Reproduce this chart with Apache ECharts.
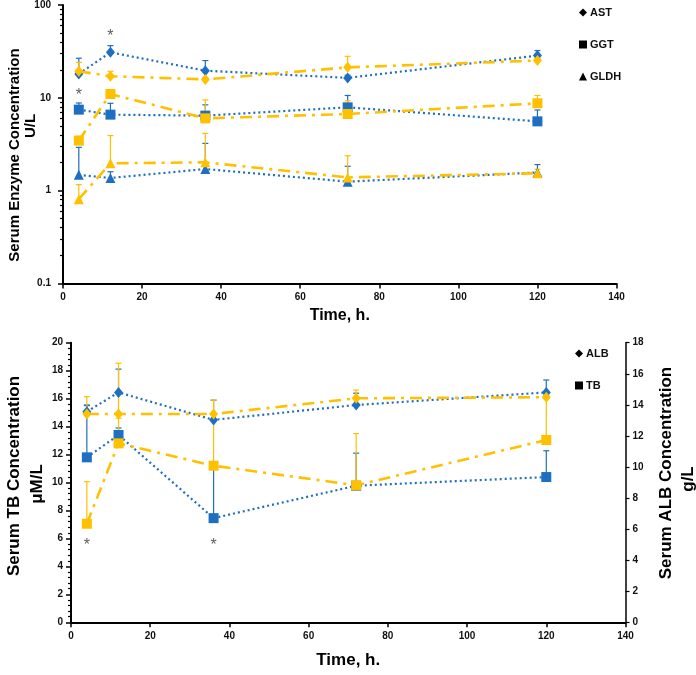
<!DOCTYPE html>
<html>
<head>
<meta charset="utf-8">
<script src="https://cdn.jsdelivr.net/npm/echarts@6/dist/echarts.min.js"></script>
<style>
html,body{margin:0;padding:0;background:#fff;}
#c{width:696px;height:675px;}
</style>
</head>
<body>
<div id="c"></div>
<script>
// ---- data ----
var time = [4, 12, 36, 72, 120];
var xTicks = [0, 20, 40, 60, 80, 100, 120, 140];

// top panel (log scale, U/L): mean and upper error-bar end
var astBlue      = [18.1, 30.9, 19.6, 16.4, 28.5];
var astBlueHi    = [26.7, 36.5, 25.2, 17.5, 32.3];
var astOrange    = [19.3, 17.1, 15.8, 21.3, 25.2];
var astOrangeHi  = [24.1, 19.3, 16.5, 28.0, 26.5];
var ggtBlue      = [7.46, 6.59, 6.43, 7.9, 5.58];
var ggtBlueHi    = [8.8, 8.73, 8.4, 10.6, 7.4];
var ggtOrange    = [3.46, 11.0, 6.01, 6.7, 8.73];
var ggtOrangeHi  = [3.85, 11.5, 9.5, 9.3, 10.6];
var gldhBlue     = [1.48, 1.37, 1.71, 1.25, 1.57];
var gldhBlueHi   = [2.93, 1.6, 3.23, 1.83, 1.91];
var gldhOrange   = [0.81, 1.97, 2.02, 1.39, 1.54];
var gldhOrangeHi = [1.16, 3.92, 4.14, 2.38, 1.7];
var topSig       = [[4, 11.7], [12, 50.4]];

// bottom panel: TB on left axis (μM/L), ALB on right axis (g/L)
var tbBlue       = [11.8, 13.4, 7.45, 9.77, 10.39];
var tbBlueHi     = [15.5, 13.9, 11.0, 12.1, 12.27];
var tbOrange     = [7.05, 12.8, 11.2, 9.8, 13.04];
var tbOrangeHi   = [10.06, 14.6, 14.9, 13.5, 16.1];
var albBlue      = [13.56, 14.8, 13.03, 13.99, 14.8];
var albBlueHi    = [13.99, 16.3, 14.3, 14.75, 15.6];
var albOrange    = [13.41, 13.41, 13.41, 14.42, 14.49];
var albOrangeHi  = [14.53, 16.68, 14.3, 14.95, 14.6];
var bottomSig    = [[4, 5.77], [36, 5.77]];

var logMinor = [0.2,0.3,0.4,0.5,0.6,0.7,0.8,0.9,2,3,4,5,6,7,8,9,20,30,40,50,60,70,80,90];
var logMajor = [0.1, 1, 10, 100];

// ---- styles ----
var BLUE = '#1E6FC0';
var ORANGE = '#FFC000';
var FONT = '"Liberation Sans", Arial, sans-serif';
var dotted = [2, 3];
var dashDot = [12, 6, 3, 6];

function pairs(xs, ys) { return xs.map(function (x, i) { return [x, ys[i]]; }); }
function triples(xs, ys, hs) { return xs.map(function (x, i) { return [x, ys[i], hs[i]]; }); }

function lineSeries(name, vals, color, symbol, size, dash, xi, yi, z) {
  return {
    type: 'line', name: name, xAxisIndex: xi, yAxisIndex: yi,
    data: pairs(time, vals), symbol: symbol, symbolSize: size,
    itemStyle: { color: color }, z: z,
    lineStyle: { color: color, width: dash === dotted ? 2.2 : 2.6, type: dash, cap: 'butt' },
    emphasis: { disabled: true }, animation: false
  };
}
function errSeries(vals, hi, color, xi, yi, z) {
  return {
    type: 'custom', xAxisIndex: xi, yAxisIndex: yi, z: z, animation: false,
    data: triples(time, vals, hi),
    encode: { x: 0, y: [1, 2] },
    renderItem: function (params, api) {
      var p0 = api.coord([api.value(0), api.value(1)]);
      var p1 = api.coord([api.value(0), api.value(2)]);
      var st = { stroke: color, lineWidth: 1.2 };
      return { type: 'group', children: [
        { type: 'line', shape: { x1: p0[0], y1: p0[1], x2: p1[0], y2: p1[1] }, style: st },
        { type: 'line', shape: { x1: p1[0] - 3, y1: p1[1], x2: p1[0] + 3, y2: p1[1] }, style: st }
      ] };
    }
  };
}
function sigSeries(pts, xi, yi) {
  return {
    type: 'scatter', xAxisIndex: xi, yAxisIndex: yi, data: pts, symbolSize: 1,
    itemStyle: { color: 'rgba(0,0,0,0)' }, animation: false, z: 20,
    label: { show: true, position: 'inside', formatter: '*', fontSize: 16, fontFamily: FONT,
             color: '#333', offset: [0, 4] }
  };
}

var axisLbl = { color: '#111', fontSize: 10, fontWeight: 'bold', fontFamily: FONT };
var axisLn = { show: true, lineStyle: { color: '#000', width: 2 } };

function xAxisDef(gi, gap) {
  return {
    gridIndex: gi, type: 'value', min: 0, max: 140, interval: 20,
    axisLine: axisLn, splitLine: { show: false },
    axisTick: { show: true, length: 5, lineStyle: { color: '#000', width: 1.5 } },
    axisLabel: Object.assign({ margin: 9 }, axisLbl),
    name: 'Time, h.', nameLocation: 'middle', nameGap: gap,
    nameTextStyle: { color: '#000', fontSize: gi === 0 ? 16 : 17, fontWeight: 'bold', fontFamily: FONT }
  };
}

var option = {
  backgroundColor: '#fff',
  animation: false,
  grid: [
    { left: 63, top: 5, width: 553.5, height: 278.5 },
    { left: 71, top: 342.7, width: 554.5, height: 279.6 }
  ],
  xAxis: [xAxisDef(0, 24), xAxisDef(1, 30)],
  yAxis: [
    { gridIndex: 0, type: 'log', logBase: 10, min: 0.1, max: 100, position: 'left',
      axisLine: axisLn, splitLine: { show: false },
      axisTick: { show: true, length: 5, lineStyle: { color: '#000', width: 1.5 } },
      axisLabel: Object.assign({ margin: 12, formatter: function (v) { return String(+v.toPrecision(3)); } }, axisLbl) },
    { gridIndex: 0, type: 'log', logBase: 10, min: 0.1, max: 100, position: 'left', offset: 0,
      axisLine: { show: false }, splitLine: { show: false },
      axisTick: { show: true, length: 3, customValues: logMinor, lineStyle: { color: '#000', width: 1.2 } },
      axisLabel: { show: false } },
    { gridIndex: 1, type: 'value', min: 0, max: 20, interval: 2, position: 'left',
      axisLine: axisLn, splitLine: { show: false },
      axisTick: { show: true, length: 5, lineStyle: { color: '#000', width: 1.5 } },
      minorTick: { show: true, splitNumber: 5, length: 3, lineStyle: { color: '#000', width: 1.2 } },
      minorSplitLine: { show: false },
      axisLabel: Object.assign({ margin: 8 }, axisLbl) },
    { gridIndex: 1, type: 'value', position: 'right', min: 0, max: 18, interval: 2,
      axisLine: { show: true, lineStyle: { color: '#000', width: 1.5 } }, splitLine: { show: false },
      axisTick: { show: true, length: 4, lineStyle: { color: '#000', width: 1.2 } },
      axisLabel: Object.assign({ margin: 7 }, axisLbl) }
  ],
  legend: [
    { left: 574, top: 2, orient: 'vertical', itemGap: 21, itemWidth: 8, itemHeight: 8,
      selectedMode: false,
      textStyle: { color: '#111', fontSize: 11, fontWeight: 'bold', fontFamily: FONT, padding: [0, 0, 0, -2] },
      data: [
        { name: 'AST', icon: 'diamond', itemStyle: { color: '#000' } },
        { name: 'GGT', icon: 'rect', itemStyle: { color: '#000' } },
        { name: 'GLDH', icon: 'triangle', itemStyle: { color: '#000' } }
      ] },
    { left: 570, top: 343, orient: 'vertical', itemGap: 21, itemWidth: 8, itemHeight: 8,
      selectedMode: false,
      textStyle: { color: '#111', fontSize: 11, fontWeight: 'bold', fontFamily: FONT, padding: [0, 0, 0, -2] },
      data: [
        { name: 'ALB', icon: 'diamond', itemStyle: { color: '#000' } },
        { name: 'TB', icon: 'rect', itemStyle: { color: '#000' } }
      ] }
  ],
  graphic: [
    { type: 'text', x: 15, y: 155, rotation: Math.PI / 2,
      style: { text: 'Serum Enzyme Concentration', font: 'bold 15px ' + FONT, fill: '#000', align: 'center', verticalAlign: 'middle' } },
    { type: 'text', x: 31, y: 126, rotation: Math.PI / 2,
      style: { text: 'U/L', font: 'bold 15px ' + FONT, fill: '#000', align: 'center', verticalAlign: 'middle' } },
    { type: 'text', x: 14, y: 476, rotation: Math.PI / 2,
      style: { text: 'Serum TB Concentration', font: 'bold 17px ' + FONT, fill: '#000', align: 'center', verticalAlign: 'middle' } },
    { type: 'text', x: 37, y: 484, rotation: Math.PI / 2,
      style: { text: 'μM/L', font: 'bold 17px ' + FONT, fill: '#000', align: 'center', verticalAlign: 'middle' } },
    { type: 'text', x: 666, y: 473, rotation: Math.PI / 2,
      style: { text: 'Serum ALB Concentration', font: 'bold 17px ' + FONT, fill: '#000', align: 'center', verticalAlign: 'middle' } },
    { type: 'text', x: 688, y: 479, rotation: Math.PI / 2,
      style: { text: 'g/L', font: 'bold 17px ' + FONT, fill: '#000', align: 'center', verticalAlign: 'middle' } }
  ],
  series: [
    // top panel
    errSeries(astBlue, astBlueHi, BLUE, 0, 0, 1),
    errSeries(ggtBlue, ggtBlueHi, BLUE, 0, 0, 1),
    errSeries(gldhBlue, gldhBlueHi, BLUE, 0, 0, 1),
    errSeries(astOrange, astOrangeHi, ORANGE, 0, 0, 1),
    errSeries(ggtOrange, ggtOrangeHi, ORANGE, 0, 0, 1),
    errSeries(gldhOrange, gldhOrangeHi, ORANGE, 0, 0, 1),
    lineSeries('AST', astBlue, BLUE, 'diamond', [9, 11], dotted, 0, 0, 3),
    lineSeries('GGT', ggtBlue, BLUE, 'rect', 10, dotted, 0, 0, 3),
    lineSeries('GLDH', gldhBlue, BLUE, 'triangle', 10, dotted, 0, 0, 3),
    lineSeries('AST', astOrange, ORANGE, 'diamond', [9, 11], dashDot, 0, 0, 4),
    lineSeries('GGT', ggtOrange, ORANGE, 'rect', 10, dashDot, 0, 0, 4),
    lineSeries('GLDH', gldhOrange, ORANGE, 'triangle', 10, dashDot, 0, 0, 4),
    sigSeries(topSig, 0, 0),
    // bottom panel
    errSeries(tbBlue, tbBlueHi, BLUE, 1, 2, 1),
    errSeries(albBlue, albBlueHi, BLUE, 1, 3, 1),
    errSeries(tbOrange, tbOrangeHi, ORANGE, 1, 2, 1),
    errSeries(albOrange, albOrangeHi, ORANGE, 1, 3, 1),
    lineSeries('TB', tbBlue, BLUE, 'rect', 10, dotted, 1, 2, 3),
    lineSeries('ALB', albBlue, BLUE, 'diamond', [9, 11], dotted, 1, 3, 3),
    lineSeries('TB', tbOrange, ORANGE, 'rect', 10, dashDot, 1, 2, 4),
    lineSeries('ALB', albOrange, ORANGE, 'diamond', [9, 11], dashDot, 1, 3, 4),
    sigSeries(bottomSig, 1, 2)
  ]
};

var chart = echarts.init(document.getElementById('c'), null, { renderer: 'canvas' });
chart.setOption(option);
</script>
</body>
</html>
